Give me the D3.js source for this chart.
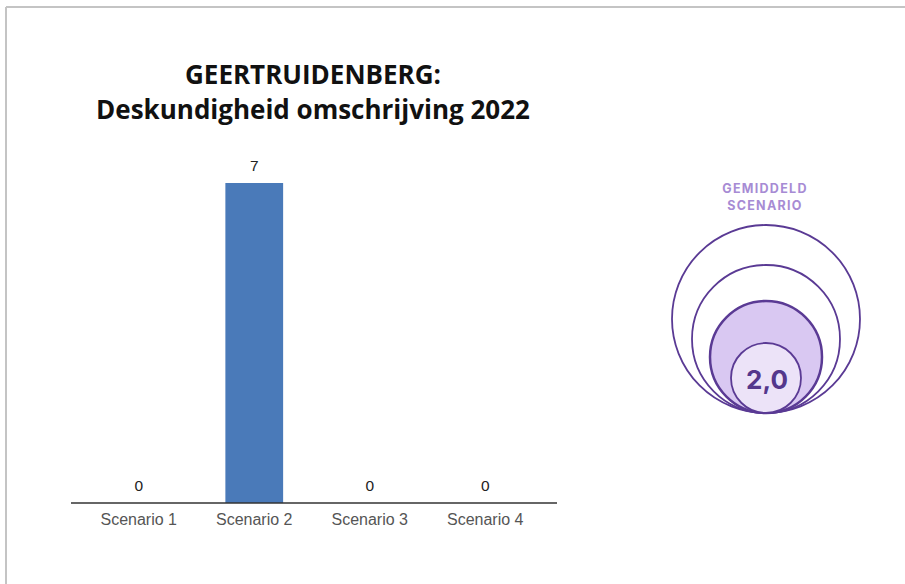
<!DOCTYPE html>
<html><head><meta charset="utf-8">
<script src="https://cdn.jsdelivr.net/npm/d3@7"></script>
<style>html,body{margin:0;padding:0;background:#fff;}svg{display:block;}</style>
</head><body>
<svg id="c" width="905" height="584"></svg>
<script>
const titleLines = ["GEERTRUIDENBERG:", "Deskundigheid omschrijving 2022"];
const categories = ["Scenario 1", "Scenario 2", "Scenario 3", "Scenario 4"];
const values = [0, 7, 0, 0];
const averageLabel = ["GEMIDDELD", "SCENARIO"];
const averageValue = "2,0";

const svg = d3.select("#c");
// frame
svg.append("line").attr("x1", 6).attr("x2", 905).attr("y1", 7).attr("y2", 7).attr("stroke", "#c4c4c4").attr("stroke-width", 2);
svg.append("line").attr("x1", 6).attr("x2", 6).attr("y1", 7).attr("y2", 584).attr("stroke", "#c4c4c4").attr("stroke-width", 2);

// title (two separate text lines)
titleLines.forEach((s, i) => svg.append("text").attr("text-anchor", "middle")
  .attr("font-family", "'Open Sans', sans-serif").attr("font-weight", 700)
  .attr("font-size", 26).attr("fill", "#111")
  .attr("x", 313).attr("y", 84 + i * 35).text(s));

// bar chart
const x = d3.scaleBand().domain(categories).range([81, 543]).paddingInner(0.5).paddingOuter(0.25);
const y = d3.scaleLinear().domain([0, 7]).range([503, 183]);

svg.append("g").selectAll("rect").data(values).join("rect")
  .attr("x", (d, i) => x(categories[i]))
  .attr("width", x.bandwidth())
  .attr("y", d => y(d)).attr("height", d => y(0) - y(d))
  .attr("fill", "#4a7ab9");

svg.append("g").selectAll("text").data(values).join("text")
  .attr("x", (d, i) => x(categories[i]) + x.bandwidth() / 2)
  .attr("y", d => y(d) - 12)
  .attr("text-anchor", "middle").attr("font-family", "'Liberation Sans', Arial, sans-serif")
  .attr("font-size", 15.5).attr("fill", "#222").text(d => d);

const axis = svg.append("g").attr("transform", `translate(0,${y(0)})`)
  .call(d3.axisBottom(x).tickSize(0).tickPadding(11));
axis.select(".domain").attr("d", "M71,0H557").attr("stroke", "#333").attr("stroke-width", 1.6);
axis.selectAll(".tick text").attr("font-family", "'Liberation Sans', Arial, sans-serif")
  .attr("font-size", 16).attr("fill", "#555");

// average indicator
const cx = 766, base = 413;
const radii = [94, 74, 56, 35];
const rings = svg.append("g");
radii.forEach((rr, i) => {
  rings.append("circle").attr("cx", cx).attr("cy", base - rr).attr("r", rr)
    .attr("fill", i === 2 ? "#d9c8f2" : (i === 3 ? "#ece3f8" : "#fff"))
    .attr("stroke", "#5a3a94").attr("stroke-width", i === 2 ? 2.5 : 1.8);
});
svg.append("text").attr("x", cx + 1).attr("y", 389).attr("text-anchor", "middle")
  .attr("font-family", "Inter, 'Noto Sans', sans-serif").attr("font-weight", 700)
  .attr("font-size", 26).attr("fill", "#54378c").text(averageValue);
averageLabel.forEach((s, i) => svg.append("text").attr("text-anchor", "middle")
  .attr("font-family", "Inter, 'Noto Sans', sans-serif").attr("font-weight", 700)
  .attr("font-size", 12.5).attr("letter-spacing", 1.3).attr("fill", "#a78bd4")
  .attr("x", 765).attr("y", 193 + i * 17).text(s));
</script>
</body></html>
